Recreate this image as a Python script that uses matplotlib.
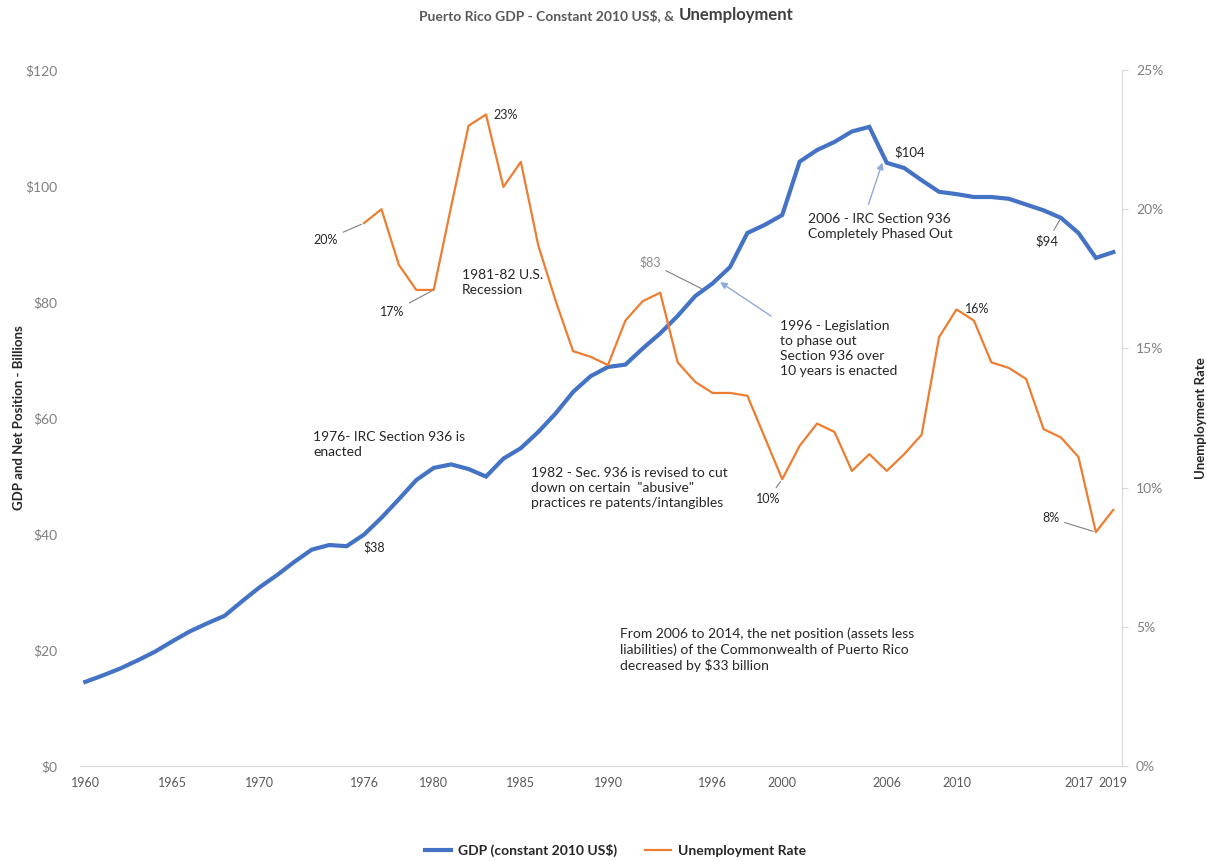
import matplotlib.pyplot as plt
import numpy as np

# ---- data ----
years = list(range(1960, 2020))
gdp = [14.5, 15.6, 16.8, 18.2, 19.7, 21.5, 23.2, 24.6, 25.9, 28.4,
       30.8, 32.9, 35.2, 37.3, 38.1, 37.9, 39.9, 42.8, 46.0, 49.3,
       51.4, 52.0, 51.2, 49.9, 53.0, 54.8, 57.6, 60.8, 64.5, 67.2,
       68.8, 69.2, 72.0, 74.6, 77.6, 81.0, 83.2, 86.0, 91.9, 93.3,
       95.0, 104.2, 106.2, 107.6, 109.4, 110.2, 104.0, 103.1, 101.0, 99.0,
       98.6, 98.1, 98.1, 97.8, 96.8, 95.8, 94.5, 91.9, 87.6, 88.6]

unemp_years = list(range(1976, 2020))
unemp = [19.5, 20.0, 18.0, 17.1, 17.1, 20.1, 23.0, 23.4, 20.8, 21.7,
         18.7, 16.7, 14.9, 14.7, 14.4, 16.0, 16.7, 17.0, 14.5, 13.8,
         13.4, 13.4, 13.3, 11.8, 10.3, 11.5, 12.3, 12.0, 10.6, 11.2,
         10.6, 11.2, 11.9, 15.4, 16.4, 16.0, 14.5, 14.3, 13.9, 12.1,
         11.8, 11.1, 8.4, 9.2]

xtick_years = [1960, 1965, 1970, 1976, 1980, 1985, 1990, 1996, 2000, 2006, 2010, 2017, 2019]
gdp_ticks = [0, 20, 40, 60, 80, 100, 120]
unemp_ticks = [0, 5, 10, 15, 20, 25]

gdp_d = dict(zip(years, gdp))
un_d = dict(zip(unemp_years, unemp))

plt.rcParams['font.family'] = ['Lato', 'DejaVu Sans']

BLUE = '#4472C4'
ORANGE = '#ED7D31'
GRAY = '#595959'
TICK = '#808080'
TXT = '#262626'
LEAD = '#7f7f7f'
ARROW = '#8faadc'

fig = plt.figure(figsize=(12.07, 8.61), dpi=100)
ax = fig.add_axes([80 / 1207, 1 - 766 / 861, (1122 - 80) / 1207, (766 - 70) / 861])
ax2 = ax.twinx()

ax.plot(years, gdp, color=BLUE, lw=3, solid_joinstyle='miter', zorder=3)
ax2.plot(unemp_years, unemp, color=ORANGE, lw=1.6, zorder=2)

ax.set_xlim(1959.7, 2019.5)
ax.set_ylim(0, 120)
ax2.set_ylim(0, 25)
ax.set_xticks(xtick_years)
ax.set_xticklabels([str(y) for y in xtick_years])
ax.set_yticks(gdp_ticks)
ax.set_yticklabels([f'${v}' for v in gdp_ticks])
ax2.set_yticks(unemp_ticks)
ax2.set_yticklabels([f'{v}%' for v in unemp_ticks])

for a in (ax, ax2):
    for s in ('top', 'left'):
        a.spines[s].set_visible(False)
    a.spines['bottom'].set_color('#d9d9d9')
    a.spines['right'].set_color('#d9d9d9')
ax.spines['right'].set_visible(False)
ax2.spines['bottom'].set_visible(False)

ax.tick_params(axis='x', length=0, labelsize=9, labelcolor=GRAY, pad=8)
ax.tick_params(axis='y', length=0, labelsize=10, labelcolor=TICK, pad=16)
ax2.tick_params(axis='y', length=4, color='#d9d9d9', labelsize=10, labelcolor=TICK, pad=6)

ax.set_ylabel('GDP and Net Position - Billions', fontsize=9.5, fontweight='bold', color=TXT)
ax2.set_ylabel('Unemployment Rate', fontsize=9.5, fontweight='bold', color=TXT)
ax.yaxis.set_label_coords(-0.053, 0.5)
ax2.yaxis.set_label_coords(1.07, 0.5)

# two-part title like the original (second word larger)
fig.text(677 / 1207, 0.982, 'Puerto Rico GDP - Constant 2010 US$, & ',
         ha='right', va='center', fontsize=10, color=GRAY, fontweight='bold')
fig.text(679 / 1207, 0.982, 'Unemployment',
         ha='left', va='center', fontsize=12, color='#404040', fontweight='bold')

# ---- annotations ----
lead = dict(arrowstyle='-', color=LEAD, lw=0.8)
arr = dict(arrowstyle='-|>', color=ARROW, lw=1.0, mutation_scale=10)
fs = 10

ax2.annotate('20%', xy=(1976, un_d[1976]), xytext=(1973.8, 18.9), fontsize=9, color=TXT,
             ha='center', va='center', arrowprops=lead)
ax2.annotate('17%', xy=(1980, un_d[1980]), xytext=(1977.6, 16.3), fontsize=9, color=TXT,
             ha='center', va='center', arrowprops=lead)
ax2.annotate('23%', xy=(1983, un_d[1983]), xytext=(1984.1, 23.4), fontsize=9, color=TXT,
             ha='center', va='center')
ax2.annotate('16%', xy=(2010, un_d[2010]), xytext=(2011.2, 16.4), fontsize=9, color=TXT,
             ha='center', va='center')
ax2.annotate('10%', xy=(2000, un_d[2000]), xytext=(1999.2, 9.6), fontsize=9, color=TXT,
             ha='center', va='center', arrowprops=lead)
ax2.annotate('8%', xy=(2018, un_d[2018]), xytext=(2015.4, 8.9), fontsize=9, color=TXT,
             ha='center', va='center', arrowprops=lead)

ax.annotate('$38', xy=(1975, gdp_d[1975]), xytext=(1976.6, 37.8), fontsize=9, color=TXT,
            ha='center', va='center')
ax.annotate('$83', xy=(1995.5, (gdp_d[1995] + gdp_d[1996]) / 2), xytext=(1992.4, 86.8),
            fontsize=9, color='#8c8c8c', ha='center', va='center', arrowprops=lead)
ax.annotate('$104', xy=(2006, gdp_d[2006]), xytext=(2007.3, 105.8), fontsize=9.5, color=TXT,
            ha='center', va='center')
ax.annotate('$94', xy=(2016, gdp_d[2016]), xytext=(2015.2, 90.4), fontsize=9.5, color=TXT,
            ha='center', va='center', arrowprops=lead)

ax.annotate('', xy=(1996.3, gdp_d[1996] + 0.5), xytext=(1999.5, 77.3), arrowprops=arr)
ax.annotate('', xy=(2005.8, gdp_d[2006] + 0.5), xytext=(2004.9, 96.4), arrowprops=arr)

ax.text(1981.6, 83.3, '1981-82 U.S.\nRecession', fontsize=fs, color=TXT,
        ha='left', va='center', linespacing=1.3)
ax.text(1999.9, 72.0, '1996 - Legislation\nto phase out\nSection 936 over\n10 years is enacted',
        fontsize=fs, color=TXT, ha='left', va='center', linespacing=1.3)
ax.text(2001.5, 93.1, '2006 - IRC Section 936\nCompletely Phased Out', fontsize=fs,
        color=TXT, ha='left', va='center', linespacing=1.3)
ax.text(1973.1, 55.4, '1976- IRC Section 936 is\nenacted', fontsize=fs, color=TXT,
        ha='left', va='center', linespacing=1.3)
ax.text(1985.6, 48.0, '1982 - Sec. 936 is revised to cut\ndown on certain  "abusive"\n'
        'practices re patents/intangibles', fontsize=fs, color=TXT, ha='left',
        va='center', linespacing=1.3)
ax.text(1990.7, 20.0, 'From 2006 to 2014, the net position (assets less\nliabilities) of the '
        'Commonwealth of Puerto Rico\ndecreased by $33 billion', fontsize=fs, color=TXT,
        ha='left', va='center', linespacing=1.3)

# ---- legend ----
h1, = ax.plot([], [], color=BLUE, lw=3, label='GDP (constant 2010 US$)')
h2, = ax.plot([], [], color=ORANGE, lw=1.6, label='Unemployment Rate')
leg = fig.legend(handles=[h1, h2], loc='center', bbox_to_anchor=(0.51, 0.012), ncol=2,
                 frameon=False, fontsize=10, handlelength=1.9, handletextpad=0.5,
                 columnspacing=2.0)
for t in leg.get_texts():
    t.set_color(TXT)
    t.set_fontweight('bold')

fig.savefig('out.png', dpi=100)
